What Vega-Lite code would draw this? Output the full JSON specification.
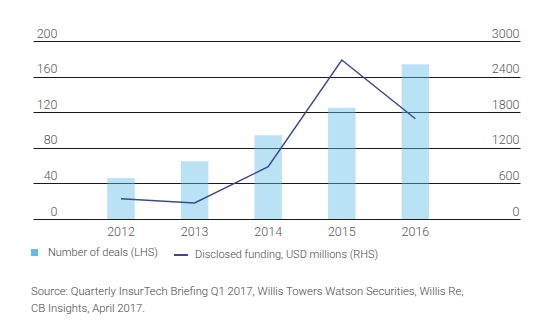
{
  "$schema": "https://vega.github.io/schema/vega-lite/v6.json",
  "width": 487,
  "height": 178,
  "autosize": {"type": "none"},
  "padding": {"left": 33, "top": 41, "right": 37, "bottom": 110},
  "config": {
    "view": {"stroke": null},
    "font": "Roboto",
    "axis": {"labelFont": "Roboto", "labelFontWeight": 300, "labelColor": "#555555", "labelFontSize": 12.5},
    "legend": {"labelFont": "Roboto", "labelFontWeight": 300, "labelColor": "#444444", "labelFontSize": 11, "labelLimit": 0}
  },
  "data": {
    "values": [
      {"year": "2012", "deals": 46, "funding": 340},
      {"year": "2013", "deals": 65, "funding": 270},
      {"year": "2014", "deals": 94, "funding": 880},
      {"year": "2015", "deals": 125, "funding": 2680},
      {"year": "2016", "deals": 174, "funding": 1690}
    ]
  },
  "title": {
    "text": ["Source: Quarterly InsurTech Briefing Q1 2017, Willis Towers Watson Securities, Willis Re,", "CB Insights, April 2017."],
    "orient": "bottom",
    "anchor": "start",
    "frame": "group",
    "font": "Roboto",
    "fontSize": 11.3,
    "fontWeight": 300,
    "color": "#444444",
    "lineHeight": 17,
    "offset": 26,
    "dx": -2
  },
  "encoding": {
    "x": {
      "field": "year",
      "type": "ordinal",
      "scale": {"paddingInner": 0.383, "paddingOuter": 1, "align": 0.4436},
      "axis": {"title": null, "labelAngle": 0, "domain": false, "ticks": false, "tickSize": 0, "labelPadding": 6}
    }
  },
  "layer": [
    {
      "mark": {"type": "bar", "fillOpacity": 0.44, "width": {"band": 0.606}},
      "encoding": {
        "y": {
          "field": "deals",
          "type": "quantitative",
          "scale": {"domain": [0, 200], "nice": false},
          "axis": {
            "title": null,
            "orient": "left",
            "values": [0, 40, 80, 120, 160, 200],
            "grid": true,
            "gridColor": "#1a1a1a",
            "gridWidth": 1,
            "gridOpacity": 1,
            "domain": false,
            "ticks": false,
            "tickSize": 0,
            "labelAlign": "right",
            "labelPadding": -24,
            "labelBaseline": "alphabetic",
            "labelOffset": -4
          }
        },
        "fill": {
          "datum": "Number of deals (LHS)",
          "scale": {"range": ["#62bce9"]},
          "legend": {
            "orient": "none",
            "legendX": -4,
            "legendY": 206,
            "title": null,
            "symbolType": "square",
            "symbolSize": 49,
            "symbolOpacity": 1,
            "symbolStrokeWidth": 0,
            "labelOffset": 8
          }
        }
      }
    },
    {
      "mark": {"type": "line", "color": "#3b4a8e", "strokeWidth": 1.5},
      "encoding": {
        "y": {
          "field": "funding",
          "type": "quantitative",
          "scale": {"domain": [0, 3000], "nice": false},
          "axis": {
            "title": null,
            "orient": "right",
            "format": "d",
            "values": [0, 600, 1200, 1800, 2400, 3000],
            "grid": false,
            "domain": false,
            "ticks": false,
            "tickSize": 0,
            "labelAlign": "right",
            "labelPadding": -1,
            "labelBaseline": "alphabetic",
            "labelOffset": -4
          }
        },
        "stroke": {
          "datum": "Disclosed funding, USD millions (RHS)",
          "scale": {"range": ["#3b4a8e"]},
          "legend": {
            "orient": "none",
            "legendX": 140,
            "legendY": 206,
            "title": null,
            "symbolType": "stroke",
            "symbolSize": 196,
            "symbolStrokeWidth": 2,
            "labelOffset": 6
          }
        }
      }
    }
  ],
  "resolve": {"scale": {"y": "independent"}}
}
